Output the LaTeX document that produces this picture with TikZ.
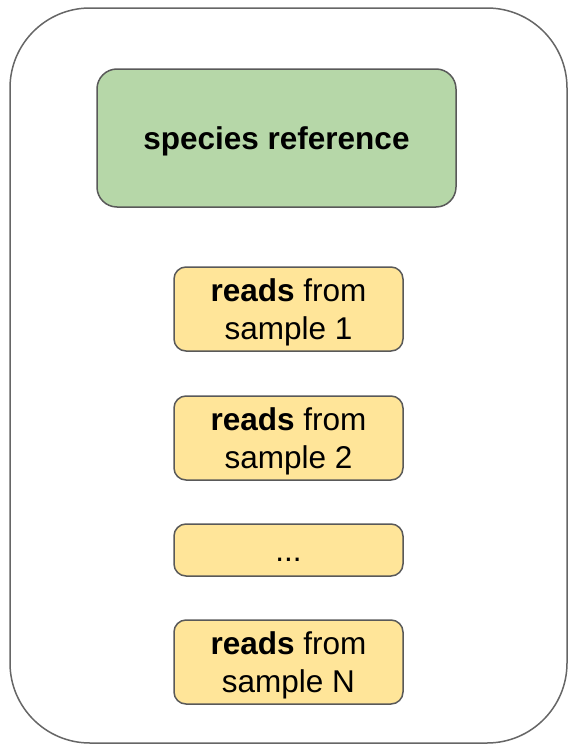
\documentclass[tikz,border=0pt]{standalone}
\usepackage{fontspec}
\setmainfont{Liberation Sans}
\definecolor{refgreen}{HTML}{B6D7A8}
\definecolor{readyellow}{HTML}{FFE599}
\definecolor{edgegray}{HTML}{595959}
\definecolor{framegray}{HTML}{666666}
\begin{document}
\begin{tikzpicture}[x=1pt,y=-1pt,
  frame/.style={draw=framegray, line width=1.5pt, rounded corners=80pt, minimum width=557pt, minimum height=735pt, inner sep=0pt},
  refbox/.style={draw=edgegray, fill=refgreen, line width=1.5pt, rounded corners=20pt, minimum width=359pt, minimum height=138pt, inner sep=0pt, text height=22pt, text depth=0pt, font=\fontsize{31.5}{37.5}\selectfont\bfseries},
  readbox/.style={draw=edgegray, fill=readyellow, line width=1.5pt, rounded corners=12pt, minimum width=229pt, inner sep=0pt, align=center, font=\fontsize{31.5}{37.5}\selectfont},
  pairbox/.style={readbox, minimum height=84pt, text height=66.6pt, text depth=6.6pt},
  gapbox/.style={readbox, minimum height=52pt, text height=22pt, text depth=0pt}
]
\useasboundingbox (0,0) rectangle (569,744);
% outer container
\node[frame] (container) at (288.5,375.5) {};
% reference genome
\node[refbox] (ref) at (276.5,138) {species reference};
% per-sample read sets
\node[pairbox] (s1) at (288.5,309) {\textbf{reads} from\\sample 1};
\node[pairbox] (s2) at (288.5,438) {\textbf{reads} from\\sample 2};
\node[gapbox] (sdots) at (288.5,550) {...};
\node[pairbox] (sN) at (288.5,662) {\textbf{reads} from\\sample N};
\end{tikzpicture}
\end{document}
